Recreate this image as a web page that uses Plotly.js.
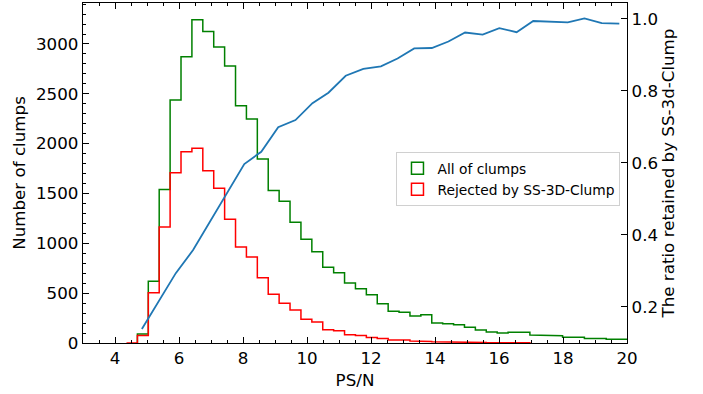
<!DOCTYPE html>
<html>
<head>
<meta charset="utf-8">
<script src="https://cdn.plot.ly/plotly-3.0.1.min.js"></script>
<style>html,body{margin:0;padding:0;background:#fff;}#chart{width:703px;height:394px;}</style>
</head>
<body>
<div id="chart"></div>
<script>
// Histogram bins (PS/N)
const binStart = 4.70;
const binWidth = 0.3407;
// Counts per bin: all clumps
const allCounts = [90, 620, 1540, 2437, 2872, 3243, 3126, 2969, 2778, 2380,
  2247, 1846, 1531, 1421, 1211, 1040, 916, 759, 705, 602,
  545, 485, 394, 318, 308, 271, 284, 200, 194, 184,
  157, 130, 110, 100, 107, 107, 80, 73, 73, 57,
  57, 45, 45, 37, 37];
// Counts per bin: rejected by SS-3D-Clump (first bin starts one bin earlier)
const rejStart = 4.70 - 0.3407;
const rejCounts = [0, 75, 505, 1163, 1708, 1918, 1955, 1728, 1552, 1242, 964,
  862, 654, 490, 400, 332, 238, 211, 134, 124, 84,
  74, 54, 45, 30, 30, 20, 15, 12, 12, 8,
  6, 5, 4, 3, 2, 2];
// Ratio retained
const ratioX = [4.84, 5.37, 5.90, 6.44, 6.97, 7.50, 8.04, 8.57, 9.10, 9.64,
  10.17, 10.67, 11.21, 11.76, 12.31, 12.83, 13.35, 13.90, 14.42, 14.94,
  15.49, 16.01, 16.55, 17.07, 17.59, 18.15, 18.67, 19.21, 19.76];
const ratioY = [0.139, 0.215, 0.294, 0.358, 0.437, 0.518, 0.597, 0.631, 0.699, 0.719,
  0.766, 0.795, 0.842, 0.861, 0.868, 0.890, 0.918, 0.919, 0.937, 0.962,
  0.956, 0.974, 0.963, 0.994, 0.993, 0.990, 1.001, 0.988, 0.987];

const legendNames = ['All of clumps', 'Rejected by SS-3D-Clump'];

function stepOutline(start, width, counts) {
  const xs = [start], ys = [0];
  counts.forEach((c, k) => {
    xs.push(start + k * width, start + (k + 1) * width);
    ys.push(c, c);
  });
  xs.push(start + counts.length * width);
  ys.push(0);
  return {x: xs, y: ys};
}

const g = stepOutline(binStart, binWidth, allCounts);
const r = stepOutline(rejStart, binWidth, rejCounts);

const font = 'DejaVu Sans, sans-serif';
const fs = 16.7;

const traces = [
  {x: g.x, y: g.y, type: 'scatter', mode: 'lines', line: {color: '#008000', width: 1.5},
   showlegend: false, legendgroup: 'a', hoverinfo: 'skip'},
  {x: r.x, y: r.y, type: 'scatter', mode: 'lines', line: {color: '#ff0000', width: 1.5},
   showlegend: false, legendgroup: 'b', hoverinfo: 'skip'},
  {x: [null], y: [null], type: 'bar', name: legendNames[0], legendgroup: 'a',
   marker: {color: 'rgba(0,0,0,0)', line: {color: '#008000', width: 1.5}}},
  {x: [null], y: [null], type: 'bar', name: legendNames[1], legendgroup: 'b',
   marker: {color: 'rgba(0,0,0,0)', line: {color: '#ff0000', width: 1.5}}},
  {x: ratioX, y: ratioY, type: 'scatter', mode: 'lines', yaxis: 'y2',
   line: {color: '#1f77b4', width: 1.8}, showlegend: false}
];

const layout = {
  width: 703, height: 394,
  margin: {l: 83, r: 76, t: 3, b: 51, pad: 0},
  paper_bgcolor: '#fff', plot_bgcolor: '#fff',
  font: {family: font, size: fs, color: '#000'},
  showlegend: true,
  legend: {x: 0.988, xanchor: 'right', y: 0.5626, yanchor: 'top',
    bgcolor: 'rgba(255,255,255,0.8)', bordercolor: '#d0d0d0', borderwidth: 1,
    font: {family: font, size: 13.8, color: '#000'}, tracegroupgap: 0},
  xaxis: {range: [3, 20], tick0: 0, dtick: 2, ticks: 'inside', ticklen: 6, tickwidth: 1,
    tickcolor: '#000', showline: true, linecolor: '#000', linewidth: 1.2, mirror: 'ticks',
    showgrid: false, zeroline: false,
    minor: {dtick: 0.5, tick0: 0, ticks: 'inside', ticklen: 3, tickwidth: 1, tickcolor: '#000'},
    title: {text: 'PS/N', font: {family: font, size: fs}, standoff: 7}, layer: 'above traces'},
  yaxis: {range: [0, 3411], tick0: 0, dtick: 500, ticks: 'inside', ticklen: 6, tickwidth: 1,
    tickcolor: '#000', showline: true, linecolor: '#000', linewidth: 1.2,
    showgrid: false, zeroline: false,
    minor: {dtick: 100, tick0: 0, ticks: 'inside', ticklen: 3, tickwidth: 1, tickcolor: '#000'},
    title: {text: 'Number of clumps', font: {family: font, size: fs}, standoff: 6}, layer: 'above traces'},
  yaxis2: {overlaying: 'y', side: 'right', range: [0.1, 1.044], tick0: 0, dtick: 0.2,
    tickformat: '.1f', ticks: 'inside', ticklen: 6, tickwidth: 1, tickcolor: '#000',
    showline: true, linecolor: '#000', linewidth: 1.2, showgrid: false, zeroline: false,
    title: {text: 'The ratio retained by SS-3d-Clump', font: {family: font, size: fs}, standoff: 5}}
};

Plotly.newPlot('chart', traces, layout, {displayModeBar: false, staticPlot: true});
</script>
</body>
</html>
